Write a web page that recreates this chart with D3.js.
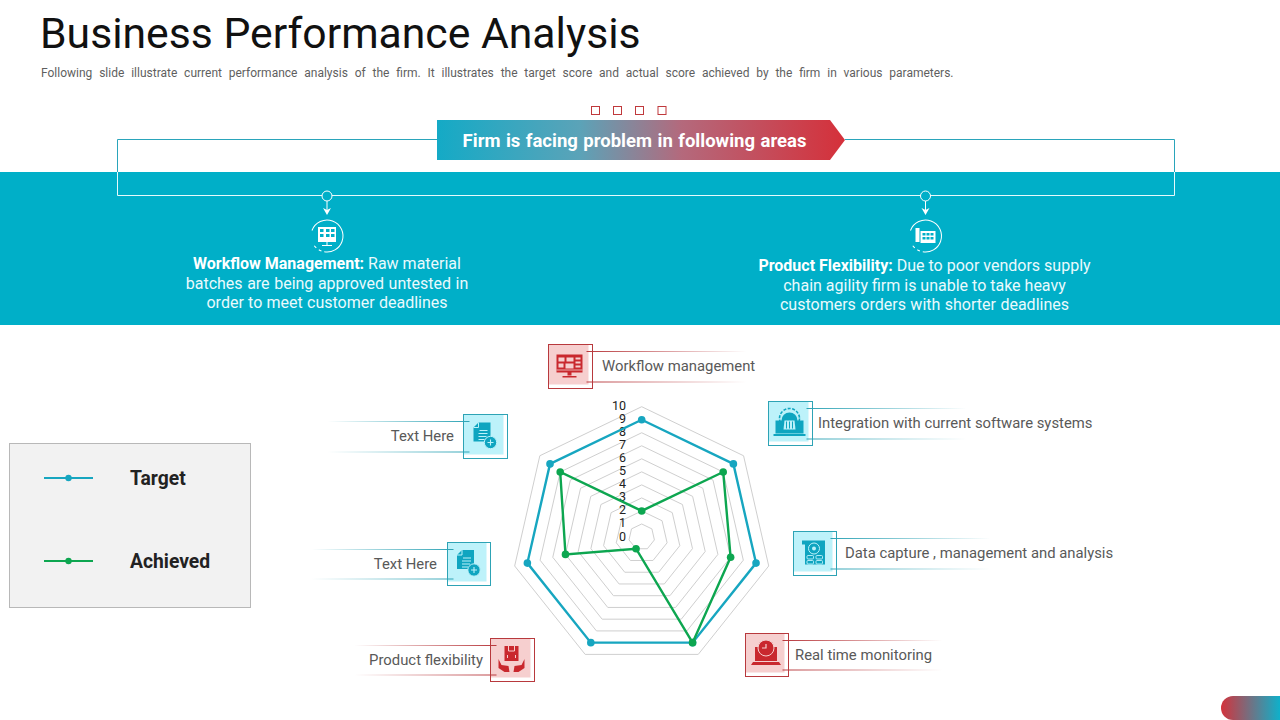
<!DOCTYPE html>
<html>
<head>
<meta charset="utf-8">
<script src="https://cdn.jsdelivr.net/npm/d3@7"></script>
<style>
  html, body { margin: 0; padding: 0; background: #fff; }
  svg { display: block; font-family: Roboto, sans-serif; }
</style>
</head>
<body>
<div id="chart"></div>
<script>
// chart values
const categories = ['Workflow management', 'Integration with current software systems',
  'Data capture , management and analysis', 'Real time monitoring', 'Product flexibility',
  'Text Here', 'Text Here'];
const target = [9, 9, 9, 9, 9, 9, 9];
const achieved = [2, 8, 7, 9, 1, 6, 8];
const radarTicks = [0, 1, 2, 3, 4, 5, 6, 7, 8, 9, 10];
const seriesNames = ['Target', 'Achieved'];

// callout boxes around the radar, same order as categories
const callouts = [
  { x: 548.5, y: 344.5, w: 44, h: 44, tone: 'red', icon: 'monitor', side: 'right', textX: 602, textY: 366 },
  { x: 768.5, y: 401.5, w: 44, h: 44, tone: 'teal', icon: 'gear', side: 'right', textX: 818, textY: 423 },
  { x: 793.5, y: 531.5, w: 43, h: 44, tone: 'teal', icon: 'scroll', side: 'right', textX: 845, textY: 553 },
  { x: 745.5, y: 633.5, w: 43, h: 43, tone: 'red', icon: 'clock', side: 'right', textX: 795, textY: 655 },
  { x: 490.5, y: 638.5, w: 44, h: 43, tone: 'red', icon: 'hands', side: 'left', textX: 483, textY: 660 },
  { x: 447.5, y: 542.5, w: 43, h: 43, tone: 'teal', icon: 'doc', side: 'left', textX: 437, textY: 564 },
  { x: 463.5, y: 414.5, w: 44, h: 44, tone: 'teal', icon: 'doc', side: 'left', textX: 454, textY: 436 }
];

const BAND = '#00afc8';
const TEAL = '#17a6c0';
const GREEN = '#0da650';
const tones = {
  red: { line: '#b8393d', fill: '#f6cfcf', ink: '#c9282e' },
  teal: { line: '#2da3b5', fill: '#bdf2fa', ink: '#0fa5c0' }
};

const svg = d3.select('#chart').append('svg').attr('width', 1280).attr('height', 720);
const defs = svg.append('defs');

function gradient(id, stops) {
  const g = defs.append('linearGradient').attr('id', id);
  stops.forEach(s => g.append('stop').attr('offset', s[0]).attr('stop-color', s[1]).attr('stop-opacity', s[2] === undefined ? 1 : s[2]));
}
gradient('banner', [[0, '#14aac6'], [0.35, '#5ba3b8'], [0.6, '#b4697c'], [1, '#d5303a']]);
gradient('pill', [[0, '#d3333c'], [1, '#0fb0ca']]);
Object.keys(tones).forEach(k => {
  gradient('fade-r-' + k, [[0, tones[k].line], [0.45, tones[k].line, 0.55], [1, tones[k].line, 0]]);
  gradient('fade-l-' + k, [[0, tones[k].line, 0], [0.55, tones[k].line, 0.55], [1, tones[k].line]]);
});

// header
svg.append('text').attr('x', 40).attr('y', 48).attr('font-size', 42.7).attr('fill', '#111').text('Business Performance Analysis');
svg.append('text').attr('x', 41).attr('y', 77).attr('font-size', 12).attr('fill', '#5f5f5f').attr('word-spacing', 3.85)
  .text('Following slide illustrate current performance analysis of the firm. It illustrates the target score and actual score achieved by the firm in various parameters.');

// teal band and connector frame
svg.append('rect').attr('x', 0).attr('y', 172).attr('width', 1280).attr('height', 153).attr('fill', BAND);
svg.append('path').attr('d', 'M437,139.5H117.5V172M845,139.5H1174.5V172').attr('fill', 'none').attr('stroke', '#2aa5bb');
svg.append('path').attr('d', 'M117.5,172V195.5H1174.5V172').attr('fill', 'none').attr('stroke', '#e6f9fc');

svg.selectAll('.dot-sq').data([591.5, 613.5, 635.5, 658]).join('rect')
  .attr('x', d => d).attr('y', 106.5).attr('width', 8).attr('height', 8)
  .attr('fill', '#fff').attr('stroke', '#c0393c');

svg.append('path').attr('d', 'M437,120H830L845,140L830,160H437Z').attr('fill', 'url(#banner)');
svg.append('text').attr('x', 634.5).attr('y', 147).attr('text-anchor', 'middle').attr('font-size', 18.5)
  .attr('font-weight', 700).attr('fill', '#fff').attr('word-spacing', 0.9)
  .text('Firm is facing problem in following areas');

function pin(cx) {
  const g = svg.append('g').attr('transform', `translate(${cx},0)`);
  g.append('circle').attr('cy', 196).attr('r', 5).attr('fill', BAND).attr('stroke', '#fff');
  g.append('path').attr('d', 'M0,201V210').attr('stroke', '#fff');
  g.append('path').attr('d', 'M-4,208L0,215L4,208L0,210Z').attr('fill', '#fff');
  g.append('circle').attr('cy', 236).attr('r', 16).attr('fill', 'none').attr('stroke', '#fff')
    .attr('stroke-dasharray', '72 3 3 3 3 17').attr('transform', 'rotate(-160 0 236)');
  return g;
}
const pinA = pin(327);
pinA.append('rect').attr('x', -9).attr('y', 227).attr('width', 18).attr('height', 15).attr('fill', '#fff');
[[-7, 229], [-1, 229], [4, 229], [-7, 234], [-1, 234], [4, 234]].forEach(p =>
  pinA.append('rect').attr('x', p[0]).attr('y', p[1]).attr('width', 3.5).attr('height', 3).attr('fill', BAND));
pinA.append('path').attr('d', 'M0,242V245M-5,245.5H5').attr('stroke', '#fff');
const pinB = pin(925.5);
pinB.append('path').attr('d', 'M-10,228H-6V242H-10ZM-5,231H10V243H-5Z').attr('fill', '#fff');
[[-3, 233], [1, 233], [5, 233], [-3, 237], [1, 237], [5, 237]].forEach(p =>
  pinB.append('rect').attr('x', p[0]).attr('y', p[1]).attr('width', 3).attr('height', 2.5).attr('fill', BAND));

function block(cx, lines) {
  lines.forEach(l => {
    const t = svg.append('text').attr('x', cx).attr('y', l.y).attr('text-anchor', 'middle')
      .attr('font-size', 16).attr('fill', '#eafafd').attr('word-spacing', l.ws || 0);
    if (l.bold) t.append('tspan').attr('font-weight', 700).attr('fill', '#fff').text(l.bold + ' ');
    t.append('tspan').text(l.text);
  });
}
block(327, [
  { y: 269, bold: 'Workflow Management:', text: 'Raw material' },
  { y: 288.5, text: 'batches are being approved untested in', ws: 0.6 },
  { y: 308, text: 'order to meet customer deadlines', ws: 0.3 }
]);
block(924.5, [
  { y: 271, bold: 'Product Flexibility:', text: 'Due to poor vendors supply' },
  { y: 290.5, text: 'chain agility firm is unable to take heavy' },
  { y: 310, text: 'customers orders with shorter deadlines', ws: 0.5 }
]);

// legend
svg.append('rect').attr('x', 9.5).attr('y', 443.5).attr('width', 241).attr('height', 164)
  .attr('fill', '#f2f2f2').attr('stroke', '#b8b8b8');
const legendY = d3.scalePoint().domain(seriesNames).range([478, 561]);
const seriesColor = d3.scaleOrdinal().domain(seriesNames).range([TEAL, GREEN]);
seriesNames.forEach(name => {
  const y = legendY(name);
  svg.append('line').attr('x1', 44).attr('x2', 93).attr('y1', y).attr('y2', y).attr('stroke', seriesColor(name)).attr('stroke-width', 2);
  svg.append('circle').attr('cx', 68.5).attr('cy', y).attr('r', 3.2).attr('fill', seriesColor(name));
  svg.append('text').attr('x', 130).attr('y', y + 7).attr('font-size', 19.3).attr('font-weight', 700).attr('fill', '#222').text(name);
});

// radar
const cx = 641.7, cy = 537;
const r = d3.scaleLinear().domain([0, 10]).range([0, 130.3]);
const angle = d3.scalePoint().domain(d3.range(categories.length + 1)).range([0, 2 * Math.PI]);
const radial = d3.lineRadial().angle((d, i) => angle(i)).radius(d => r(d)).curve(d3.curveLinearClosed);
const radar = svg.append('g').attr('transform', `translate(${cx},${cy})`);

radar.selectAll('.grid').data(radarTicks.filter(t => t > 0)).join('path')
  .attr('d', t => radial(categories.map(() => t)))
  .attr('fill', 'none').attr('stroke', '#cfcfcf').attr('stroke-width', 1);

const axis = d3.axisLeft(d3.scaleLinear().domain([0, 10]).range([0, -130.3]))
  .tickValues(radarTicks).tickSize(0).tickPadding(15.7);
const axisG = radar.append('g').attr('transform', 'translate(0,-1)').call(axis);
axisG.select('.domain').remove();
axisG.selectAll('text').attr('font-family', 'Roboto, sans-serif').attr('font-size', 12.5).attr('fill', '#222');

[[target, seriesNames[0]], [achieved, seriesNames[1]]].forEach(([values, name]) => {
  radar.append('path').attr('d', radial(values)).attr('fill', 'none')
    .attr('stroke', seriesColor(name)).attr('stroke-width', 2.4);
  radar.selectAll('.pt-' + name).data(values).join('circle')
    .attr('transform', (d, i) => `translate(${d3.pointRadial(angle(i), r(d))})`)
    .attr('r', 3.8).attr('fill', seriesColor(name));
});

// small pictograms, drawn in a box centred on 0,0
const icons = {
  monitor(g, ink, bg) {
    g.append('path').attr('d', 'M-13,-11H13V7H-13ZM-2,7H2V10H-2ZM-7,10.5H7V12H-7Z').attr('fill', ink);
    [[-11, -8, 6, 4], [-3, -8, 7, 4], [6, -8, 5, 2], [-11, -2, 5, 4], [-4, -2, 8, 5], [6, -4, 5, 2], [6, 0, 5, 2]].forEach(p =>
      g.append('rect').attr('x', p[0]).attr('y', p[1]).attr('width', p[2]).attr('height', p[3]).attr('fill', bg));
    g.append('path').attr('d', 'M-13,4.5H13').attr('stroke', bg).attr('stroke-width', 0.8);
  },
  gear(g, ink, bg) {
    g.append('path').attr('d', 'M-14,-2H-8A8,8 0 0 1 8,-2H14V11H-14Z').attr('fill', ink);
    g.append('circle').attr('cy', -4).attr('r', 10).attr('fill', 'none').attr('stroke', ink).attr('stroke-width', 1.6).attr('stroke-dasharray', '3 1.5');
    g.append('path').attr('d', 'M-5,-2H5L6,7H-6Z').attr('fill', bg);
    g.append('path').attr('d', 'M-3,-1V6M0,-1V6M3,-1V6').attr('stroke', ink).attr('stroke-width', 1);
    g.append('path').attr('d', 'M-16,12.5H16').attr('stroke', ink).attr('stroke-width', 2);
  },
  scroll(g, ink, bg) {
    g.append('path').attr('d', 'M-12,-12H11V12H-9V-8H-12Z').attr('fill', ink);
    g.append('circle').attr('cy', -4).attr('r', 5.5).attr('fill', ink).attr('stroke', bg).attr('stroke-width', 1);
    g.append('circle').attr('cy', -4).attr('r', 2).attr('fill', bg);
    [[-7, 3], [2, 3], [-7, 8], [2, 8]].forEach(p =>
      g.append('rect').attr('x', p[0]).attr('y', p[1]).attr('width', 6.5).attr('height', 3.5).attr('rx', 1).attr('fill', 'none').attr('stroke', bg).attr('stroke-width', 0.9));
  },
  clock(g, ink, bg) {
    g.append('path').attr('d', 'M-11,-7H11V7H-11ZM-13,8H13L15,11H-15Z').attr('fill', ink);
    g.append('circle').attr('cy', -6).attr('r', 8).attr('fill', ink).attr('stroke', bg).attr('stroke-width', 1);
    g.append('path').attr('d', 'M0,-10V-6H-4').attr('fill', 'none').attr('stroke', bg).attr('stroke-width', 1.2);
  },
  hands(g, ink, bg) {
    g.append('rect').attr('x', -7).attr('y', -13).attr('width', 14).attr('height', 15).attr('fill', ink);
    g.append('path').attr('d', 'M-3,-13V-8H3V-13M-4,-1V-4M4,-1V-4').attr('fill', 'none').attr('stroke', bg).attr('stroke-width', 1);
    g.append('path').attr('d', 'M-13,0L-10,6L-3,7L-2,13H-7L-13,9ZM13,0L10,6L3,7L2,13H7L13,9Z').attr('fill', ink);
  },
  doc(g, ink, bg) {
    g.append('path').attr('d', 'M-6,-13H6V6H-11V-8Z').attr('fill', ink);
    g.append('path').attr('d', 'M-6,-13L-6,-8L-11,-8').attr('fill', 'none').attr('stroke', bg).attr('stroke-width', 1);
    g.append('path').attr('d', 'M-5,-5H3M-6,-2H3M-6,1H2M-6,4H0').attr('stroke', bg).attr('stroke-width', 1);
    g.append('circle').attr('cx', 6).attr('cy', 7).attr('r', 6.2).attr('fill', ink).attr('stroke', bg).attr('stroke-width', 1);
    g.append('path').attr('d', 'M3,7H9M6,4V10').attr('stroke', bg).attr('stroke-width', 1.1);
  }
};

callouts.forEach((c, i) => {
  const tone = tones[c.tone];
  const g = svg.append('g');
  const right = c.side === 'right';
  g.append('rect').attr('x', c.x).attr('y', c.y).attr('width', c.w - 4).attr('height', c.h - 4).attr('fill', tone.fill);
  g.append('rect').attr('x', c.x).attr('y', c.y).attr('width', c.w).attr('height', c.h)
    .attr('fill', 'none').attr('stroke', tone.line);
  [c.y + 6.5, c.y + c.h - 7].forEach(y => {
    const len = right ? 160 : 142;
    const x0 = right ? c.x + c.w - 6 : c.x + 6 - len;
    g.append('rect').attr('x', x0).attr('y', y).attr('width', len).attr('height', 1)
      .attr('fill', `url(#fade-${right ? 'r' : 'l'}-${c.tone})`);
  });
  const ic = g.append('g').attr('transform', `translate(${c.x + c.w / 2 - 1},${c.y + c.h / 2 - 1})`);
  icons[c.icon](ic, tone.ink, tone.fill);
  g.append('text').attr('x', c.textX).attr('y', c.textY).attr('dy', '0.35em')
    .attr('text-anchor', right ? 'start' : 'end').attr('font-size', 14.85).attr('fill', '#595959')
    .text(categories[i]);
});

// page tab
svg.append('path').attr('d', 'M1280,696H1233A12,12 0 0 0 1233,720H1280Z').attr('fill', 'url(#pill)');
</script>
</body>
</html>
